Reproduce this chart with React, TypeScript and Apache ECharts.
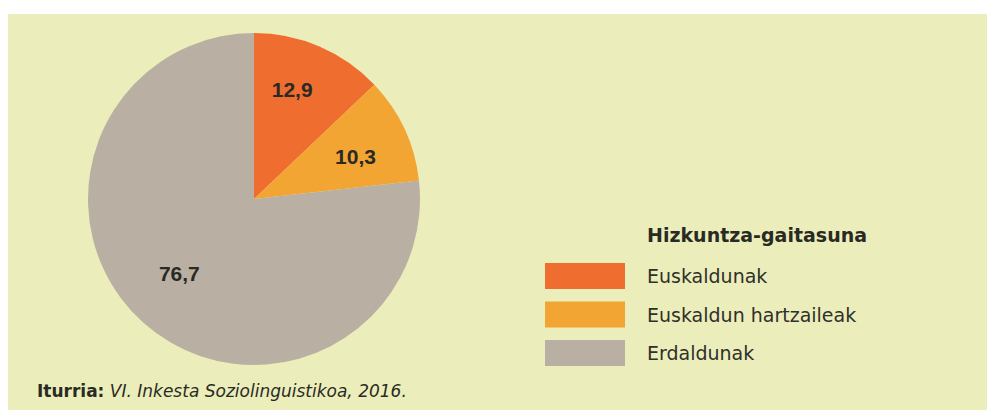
import React, { useEffect, useRef } from "react";
import * as echarts from "echarts";

const categories = ["Euskaldunak", "Euskaldun hartzaileak", "Erdaldunak"];
const values = [12.9, 10.3, 76.7];
const colors = ["#ef6e2f", "#f2a533", "#b9b0a3"];
const legendTitle = "Hizkuntza-gaitasuna";
const sourceLabel = "Iturria:";
const sourceText = "VI. Inkesta Soziolinguistikoa, 2016.";

// small per-slice label nudges: horizontal padding, vertical shift (px, negative = up)
const labelPads = [
  [0, 12, 0, 0],
  [0, 0, 0, 0],
  [0, 0, 0, 0],
];
const labelShiftY = [-7, 5, -9];

export default function App() {
  const ref = useRef<HTMLDivElement>(null);
  useEffect(() => {
    if (!ref.current) return;
    const chart = echarts.init(ref.current, undefined, { renderer: "svg" });
    const fmt = (v: number) => v.toFixed(1).replace(".", ",");
    const rich: any = {
      v: {
        fontFamily: "Liberation Sans",
        fontWeight: "bold",
        fontSize: 21,
        color: "#2a2a25",
        lineHeight: 24,
      },
    };
    labelShiftY.forEach((s, i) => {
      const h = Math.max(1, Math.abs(s) * 2);
      rich["s" + i] = { fontSize: 1, height: h, lineHeight: h };
    });
    chart.setOption({
      animation: false,
      backgroundColor: "#ffffff",
      graphic: [
        {
          type: "rect",
          z: -10,
          shape: { x: 8, y: 14, width: 979, height: 396 },
          style: { fill: "#ebeebb" },
          silent: true,
        },
        {
          type: "text",
          x: 647,
          y: 235,
          style: {
            text: legendTitle,
            fontFamily: "DejaVu Sans",
            fontWeight: "bold",
            fontSize: 19,
            fill: "#2a2a24",
            verticalAlign: "middle",
            align: "left",
          },
        },
        {
          type: "text",
          x: 37,
          y: 391,
          style: {
            text: `{b|${sourceLabel}} {i|${sourceText}}`,
            fontFamily: "DejaVu Sans",
            fontSize: 17,
            fill: "#2a2a24",
            verticalAlign: "middle",
            align: "left",
            rich: {
              b: { fontFamily: "DejaVu Sans", fontSize: 17, fontWeight: "bold", fill: "#2a2a24" },
              i: { fontFamily: "DejaVu Sans", fontSize: 17, fontStyle: "italic", fill: "#2a2a24" },
            },
          },
        },
      ],
      legend: {
        orient: "vertical",
        left: 545,
        top: 263,
        padding: 0,
        icon: "rect",
        itemWidth: 80,
        itemHeight: 26,
        itemGap: 12.5,
        selectedMode: false,
        data: categories,
        textStyle: {
          fontFamily: "DejaVu Sans",
          fontSize: 19,
          color: "#30302a",
          padding: [0, 0, 0, 17],
        },
      },
      series: [
        {
          type: "pie",
          center: [254, 199],
          radius: [0, 166],
          startAngle: 90,
          clockwise: true,
          silent: true,
          label: { show: false },
          labelLine: { show: false },
          data: categories.map((name, i) => ({
            name,
            value: values[i],
            itemStyle: { color: colors[i] },
          })),
        },
        {
          type: "pie",
          center: [254, 199],
          radius: [52, 166],
          startAngle: 90,
          clockwise: true,
          silent: true,
          z: 5,
          itemStyle: { color: "rgba(0,0,0,0)" },
          label: {
            show: true,
            position: "inside",
            fontFamily: "Liberation Sans",
            fontWeight: "bold",
            fontSize: 21,
            color: "#2a2a25",
            rich,
            formatter: (p: any) => {
              const i = p.dataIndex;
              const t = `{v|${fmt(p.value)}}`;
              const s = labelShiftY[i];
              if (s < 0) return `${t}\n{s${i}| }`;
              if (s > 0) return `{s${i}| }\n${t}`;
              return t;
            },
          },
          labelLine: { show: false },
          data: categories.map((name, i) => ({
            name,
            value: values[i],
            label: { padding: labelPads[i] },
          })),
        },
      ],
    });
    return () => chart.dispose();
  }, []);
  return (
    <div
      ref={ref}
      style={{ position: "fixed", left: 0, top: 0, width: 987, height: 410 }}
    />
  );
}
